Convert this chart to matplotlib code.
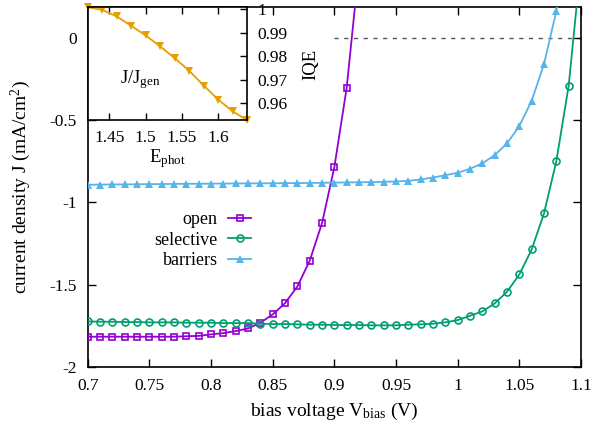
import matplotlib
matplotlib.use("Agg")
import matplotlib.pyplot as plt
import numpy as np

plt.rcParams["font.family"] = ["Liberation Serif", "DejaVu Serif"]
plt.rcParams["mathtext.fontset"] = "custom"
plt.rcParams["mathtext.rm"] = "Liberation Serif"
plt.rcParams["mathtext.it"] = "Liberation Serif:italic"
plt.rcParams["font.size"] = 12.5

# bias voltage (V)
vbias = np.round(np.arange(0.70, 1.105, 0.01), 2)

# current density J (mA/cm^2)
j_open = [-1.816, -1.816, -1.816, -1.816, -1.816, -1.816, -1.816, -1.816, -1.813, -1.811,
          -1.802, -1.794, -1.782, -1.766, -1.731, -1.681, -1.612, -1.511, -1.355, -1.126,
          -0.786, -0.304, 0.43]
j_selective = [-1.723, -1.725, -1.725, -1.727, -1.727, -1.729, -1.729, -1.729, -1.731, -1.731,
               -1.731, -1.733, -1.733, -1.733, -1.737, -1.739, -1.739, -1.741, -1.743,
               -1.743, -1.745, -1.745, -1.745, -1.747, -1.747, -1.747, -1.743, -1.741, -1.737,
               -1.729, -1.715, -1.689, -1.662, -1.614, -1.543, -1.438, -1.286, -1.067, -0.750,
               -0.292, 0.46]
j_barriers = [-0.893, -0.892, -0.891, -0.891, -0.890, -0.889, -0.889, -0.888, -0.887, -0.887,
              -0.886, -0.886, -0.885, -0.885, -0.884, -0.884, -0.883, -0.883, -0.882, -0.881,
              -0.880, -0.879, -0.878, -0.877, -0.875, -0.873, -0.869, -0.861, -0.849, -0.835,
              -0.820, -0.796, -0.763, -0.713, -0.642, -0.536, -0.383, -0.160, 0.162, 0.60]

# inset: photon energy vs IQE
e_phot = [1.42, 1.44, 1.46, 1.48, 1.50, 1.52, 1.54, 1.56, 1.58, 1.60, 1.62, 1.64]
iqe = [1.0008, 0.9997, 0.9969, 0.9929, 0.9888, 0.9841, 0.9791, 0.9737, 0.9674, 0.9614,
       0.9564, 0.9526]

W, H = 595, 430
fig = plt.figure(figsize=(W / 100, H / 100), dpi=100)

def px_axes(x0, y0, x1, y1):
    return [x0 / W, 1 - y1 / H, (x1 - x0) / W, (y1 - y0) / H]

ax = fig.add_axes(px_axes(87.7, 7.3, 581, 367))

ax.hlines(0, 0.9, 1.1, colors="#555555", linestyles=(0, (3, 4)), linewidth=1.0, zorder=1)

ax.plot(vbias[:len(j_open)], j_open, color="#9400D3", lw=1.3, marker="s", ms=5,
        mfc="none", mew=1.2, label="open", zorder=3)
ax.plot(vbias[:len(j_selective)], j_selective, color="#009E73", lw=1.3, marker="o", ms=5,
        mfc="none", mew=1.2, label="selective", zorder=3)
ax.plot(vbias[:len(j_barriers)], j_barriers, color="#56B4E9", lw=1.3, marker="^", ms=6,
        mew=0, label="barriers", zorder=3)

ax.set_xlim(0.7, 1.1)
ax.set_ylim(-2, 0.185)
ax.set_xticks([0.7, 0.75, 0.8, 0.85, 0.9, 0.95, 1.0, 1.05, 1.1])
ax.set_xticklabels(["0.7", "0.75", "0.8", "0.85", "0.9", "0.95", "1", "1.05", "1.1"])
ax.set_yticks([-2, -1.5, -1, -0.5, 0])
ax.set_yticklabels(["-2", "-1.5", "-1", "-0.5", "0"])
ax.tick_params(direction="in", top=True, right=True, length=6, width=1, pad=8)
for s in ax.spines.values():
    s.set_linewidth(1.2)
ax.set_xlabel(r"bias voltage V$_{\rm bias}$ (V)", fontsize=14, labelpad=5)
ax.set_ylabel(r"current density J (mA/cm$^2$)", fontsize=14, labelpad=12)

leg = ax.legend(loc="upper right", bbox_to_anchor=(251 / W, 1 - 211 / H),
                bbox_transform=fig.transFigure, frameon=False, markerfirst=False,
                fontsize=13, handlelength=1.25, handletextpad=0.6, labelspacing=0.2,
                borderpad=0, borderaxespad=0)

# inset
axi = fig.add_axes(px_axes(87.7, 7.3, 247.3, 120.3))
axi.set_facecolor("white")
axi.plot(e_phot, iqe, color="#E69F00", lw=1.3, marker="v", ms=6, mew=0, clip_on=False)
axi.set_xlim(1.42, 1.64)
axi.set_ylim(0.9526, 1.0008)
axi.set_xticks([1.45, 1.5, 1.55, 1.6])
axi.set_xticklabels(["1.45", "1.5", "1.55", "1.6"])
axi.set_yticks([0.96, 0.97, 0.98, 0.99, 1.0])
axi.set_yticklabels(["0.96", "0.97", "0.98", "0.99", "1"])
axi.yaxis.tick_right()
axi.tick_params(direction="in", top=True, bottom=True, right=True, left=False,
                length=5, width=1, pad=7)
for s in axi.spines.values():
    s.set_linewidth(1.2)
axi.set_xlabel(r"E$_{\rm phot}$", fontsize=13.5, labelpad=1)
axi.text(0.33, 0.36, r"J/J$_{\rm gen}$", fontsize=13.5, transform=axi.transAxes,
         ha="center", va="center")
fig.text(311 / W, 1 - 64 / H, "IQE", fontsize=13.5, rotation=90, ha="center", va="center")

fig.savefig("out.png", dpi=100)
